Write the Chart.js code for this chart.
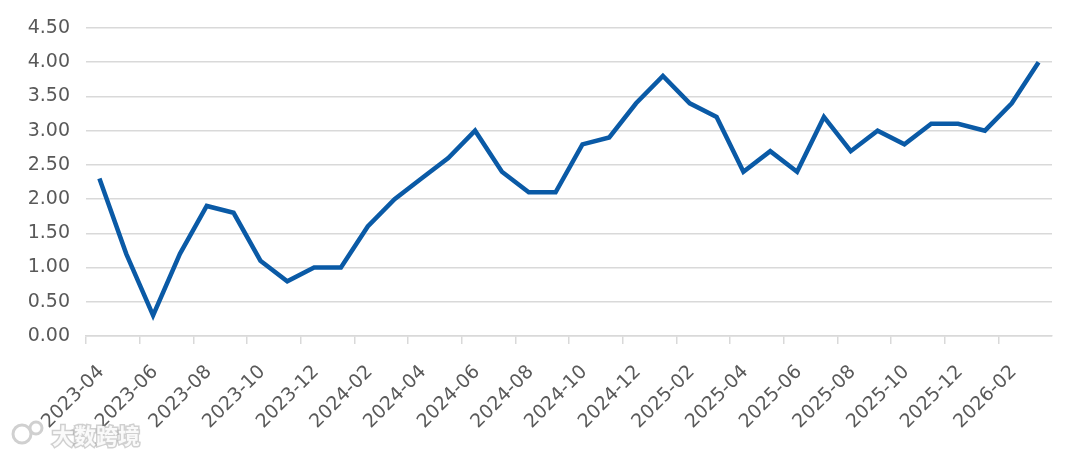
<!DOCTYPE html>
<html>
<head>
<meta charset="utf-8">
<script src="https://cdn.jsdelivr.net/npm/chart.js@4.4.1/dist/chart.umd.min.js"></script>
<style>
  html, body { margin: 0; padding: 0; background: #fff; }
  #wrap { width: 1080px; height: 456px; position: relative; }
</style>
</head>
<body>
<div id="wrap"><canvas id="lineChart"></canvas></div>
<script>
// ===== data =====
const months = [
  '2023-04','2023-05','2023-06','2023-07','2023-08','2023-09','2023-10','2023-11','2023-12',
  '2024-01','2024-02','2024-03','2024-04','2024-05','2024-06','2024-07','2024-08','2024-09',
  '2024-10','2024-11','2024-12','2025-01','2025-02','2025-03','2025-04','2025-05','2025-06',
  '2025-07','2025-08','2025-09','2025-10','2025-11','2025-12','2026-01','2026-02','2026-03'
];
const values = [
  2.3, 1.2, 0.3, 1.2, 1.9, 1.8, 1.1, 0.8, 1.0,
  1.0, 1.6, 2.0, 2.3, 2.6, 3.0, 2.4, 2.1, 2.1,
  2.8, 2.9, 3.4, 3.8, 3.4, 3.2, 2.4, 2.7, 2.4,
  3.2, 2.7, 3.0, 2.8, 3.1, 3.1, 3.0, 3.4, 4.0
];
const yTicks = [0, 0.5, 1, 1.5, 2, 2.5, 3, 3.5, 4, 4.5];

const labelColor = '#595959';
const gridColor = '#d9d9d9';
const fontFamily = '"DejaVu Sans", sans-serif';

// watermark in the bottom-left corner
const watermark = {
  id: 'watermark',
  afterDraw(chart) {
    const c = chart.ctx;
    c.save();
    c.font = 'bold 22px "Noto Sans CJK SC", sans-serif';
    c.textBaseline = 'middle';
    c.lineWidth = 3;
    c.strokeStyle = 'rgba(150,150,150,0.45)';
    c.fillStyle = 'rgba(255,255,255,0.9)';
    c.strokeText('大数跨境', 52, 436);
    c.fillText('大数跨境', 52, 436);
    c.beginPath();
    c.arc(22, 434, 9, 0, Math.PI * 2);
    c.moveTo(42, 428);
    c.arc(36, 428, 6, 0, Math.PI * 2);
    c.stroke();
    c.restore();
  }
};

const ctx = document.getElementById('lineChart').getContext('2d');
new Chart(ctx, {
  type: 'line',
  data: {
    labels: months,
    datasets: [{
      data: values,
      borderColor: '#0a5aa6',
      borderWidth: 4.5,
      pointRadius: 0,
      tension: 0,
      fill: false
    }]
  },
  options: {
    responsive: true,
    maintainAspectRatio: false,
    animation: false,
    layout: { padding: { top: 28, right: 28, left: 0, bottom: 0 } },
    plugins: {
      legend: { display: false },
      tooltip: { enabled: false }
    },
    scales: {
      x: {
        offset: true,
        afterFit: (scale) => { scale.height = 120; },
        grid: {
          offset: true,
          drawOnChartArea: false,
          tickLength: 8,
          lineWidth: 1.5,
          color: (c) => (c.index % 2 === 0 ? gridColor : 'rgba(0,0,0,0)')
        },
        border: { color: gridColor, width: 1.5 },
        ticks: {
          autoSkip: false,
          maxRotation: 45,
          minRotation: 45,
          padding: 17,
          labelOffset: 2,
          color: labelColor,
          font: { family: fontFamily, size: 19 },
          callback: function (val, i) { return i % 2 === 0 ? months[i] : ''; }
        }
      },
      y: {
        min: 0,
        max: 4.5,
        afterFit: (scale) => { scale.width = 86; },
        afterBuildTicks: (scale) => { scale.ticks = yTicks.map(v => ({ value: v })); },
        grid: { color: gridColor, lineWidth: 1.5, drawTicks: false },
        border: { display: false },
        ticks: {
          padding: 16,
          color: labelColor,
          font: { family: fontFamily, size: 19 },
          callback: (v) => Number(v).toFixed(2)
        }
      }
    }
  },
  plugins: [watermark]
});
</script>
</body>
</html>
